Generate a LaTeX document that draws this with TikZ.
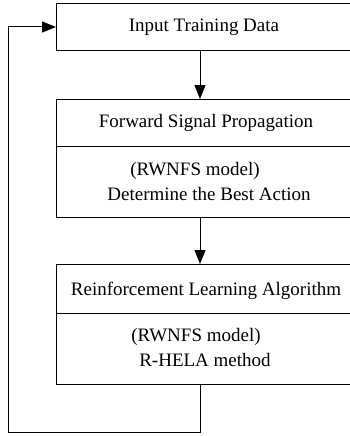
\documentclass[tikz,border=0pt]{standalone}
\usepackage{fontspec}
\setmainfont{Liberation Serif}
\usetikzlibrary{arrows.meta}
\begin{document}
\begin{tikzpicture}[x=1pt,y=-1pt,
  boxpart/.style={draw=black,line width=1pt,rectangle,inner sep=0pt,anchor=north west},
  lbl/.style={inner sep=0pt,font=\fontsize{19}{21}\selectfont},
  flow/.style={draw=black,line width=1pt,-{Triangle[length=14pt,width=11pt]}},
  plain/.style={draw=black,line width=1pt}]
\useasboundingbox (0,0) rectangle (350,436);
\clip (0,0) rectangle (350,436);
\fill[white] (0,0) rectangle (350,436);
% box 1
\node[boxpart,minimum width=300pt,minimum height=47pt] (b1) at (56,3) {};
\node[lbl] (t1) at (204,27.5) {Input Training Data};
% box 2
\node[boxpart,minimum width=300pt,minimum height=47pt] (b2a) at (56,99) {};
\node[boxpart,minimum width=300pt,minimum height=71pt] (b2b) at (56,146) {};
\node[lbl] (t2) at (206,123) {Forward Signal Propagation};
\node[lbl] (t3) at (195,171) {(RWNFS model)};
\node[lbl] (t4) at (209,194) {Determine the Best Action};
% box 3
\node[boxpart,minimum width=300pt,minimum height=49pt] (b3a) at (56,264) {};
\node[boxpart,minimum width=300pt,minimum height=71pt] (b3b) at (56,313) {};
\node[lbl] (t5) at (206,290.5) {Reinforcement Learning Algorithm};
\node[lbl] (t6) at (196,337) {(RWNFS model)};
\node[lbl] (t7) at (205,359.5) {R-HELA method};
% connectors
\coordinate (c1) at (200,50);
\coordinate (c2) at (200,99);
\coordinate (c3) at (200,217);
\coordinate (c4) at (200,264);
\coordinate (c5) at (200,384);
\coordinate (c6) at (200,432);
\coordinate (c7) at (8.5,432);
\coordinate (c8) at (8.5,27);
\coordinate (c9) at (56,27);
\draw[flow] (c1) -- (c2);
\draw[flow] (c3) -- (c4);
\draw[flow] (c5) -- (c6) -- (c7) -- (c8) -- (c9);
\end{tikzpicture}
\end{document}
